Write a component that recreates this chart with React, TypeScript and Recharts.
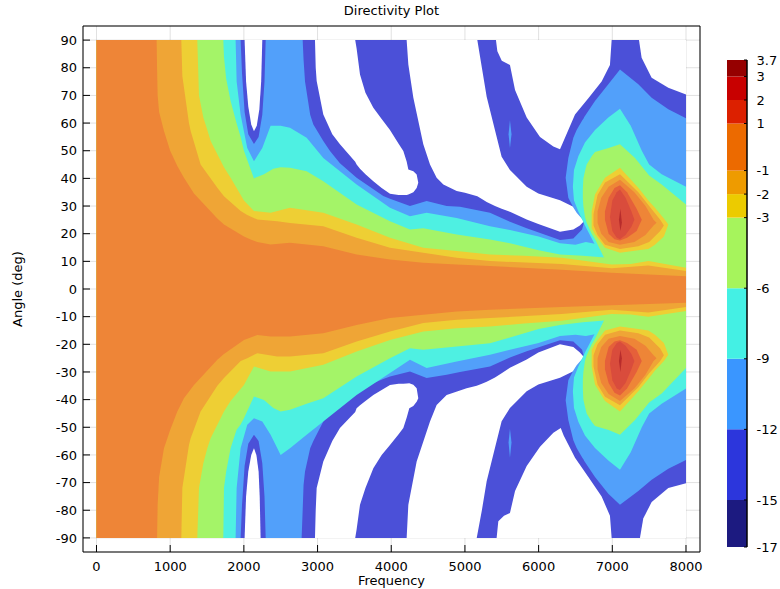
import React from "react";
import {
  ComposedChart,
  Area,
  XAxis,
  YAxis,
  CartesianGrid,
} from "recharts";

// each row: [frequency (Hz), low angle (deg), high angle (deg)]
type Row = [number, number, number];

const freqTicks = [0, 1000, 2000, 3000, 4000, 5000, 6000, 7000, 8000];
const angleTicks = [
  -90, -80, -70, -60, -50, -40, -30, -20, -10, 0, 10, 20, 30, 40, 50, 60, 70,
  80, 90,
];
const levelTicks = [3.7, 3, 2, 1, -1, -2, -3, -6, -9, -12, -15, -17];
const levelBands: [number, number][] = [
  [-17, -15],
  [-15, -12],
  [-12, -9],
  [-9, -6],
  [-6, -3],
  [-3, -2],
  [-2, -1],
  [-1, 1],
  [1, 2],
  [2, 3],
  [3, 3.7],
];
const levelColors = [
  "#1c1a80",
  "#2c36dc",
  "#3a96ff",
  "#44f0e4",
  "#a6f45c",
  "#eccb00",
  "#ee9b00",
  "#ec6a00",
  "#dc2000",
  "#c80000",
  "#960000",
];

// level >= -15
const blueBase: Row[] = [
  [0, -90, 90],
  [8000, -90, 90],
];

// regions below -15 (drawn white)
const holeU1: Row[] = [
  [2010, 90, 90], [2030, 75, 90], [2060, 66, 90], [2100, 59.5, 90], [2137, 57, 90],
  [2175, 59, 90], [2210, 65, 90], [2235, 75, 90], [2250, 90, 90],
];
const holeL1: Row[] = [
  [2010, -90, -90], [2030, -90, -75], [2060, -90, -66], [2100, -90, -60], [2137, -90, -57.6],
  [2170, -90, -60], [2200, -90, -66], [2215, -90, -75], [2227, -90, -90],
];
const holeU2: Row[] = [
  [2965, 90, 90], [2975, 80, 90], [2988, 75.2, 90], [3078, 63.1, 90], [3200, 56, 90],
  [3304, 52.3, 90], [3511, 46, 90], [3530, 45, 87], [3576, 43.5, 77.6], [3650, 41.5, 71],
  [3757, 39, 65.5], [3870, 36.5, 61.5], [3983, 34.4, 57.5], [4100, 34, 52.5], [4164, 34, 49.9],
  [4210, 34, 46], [4232, 34.2, 43.2], [4300, 35, 42.6], [4345, 36.5, 41.4], [4367, 38.4, 38.4],
];
const holeL2: Row[] = [
  [2965, -90, -90], [2975, -90, -80], [2988, -90, -72], [3078, -90, -62.4], [3200, -90, -55],
  [3304, -90, -50.3], [3511, -90, -44.5], [3530, -87, -43.1], [3576, -78, -42], [3650, -72, -40.5],
  [3757, -64.8, -38.3], [3870, -60, -36.5], [3983, -56.4, -34.7], [4100, -52.5, -34.3],
  [4164, -50.3, -34.3], [4210, -46.5, -34.2], [4245, -43.1, -34.1], [4300, -42.3, -34.6],
  [4345, -40.8, -35.9], [4367, -39.5, -39.5],
];
const holeU3: Row[] = [
  [4209, 90, 90], [4232, 81.2, 90], [4300, 69.2, 90], [4435, 52.3, 90], [4526, 45, 90],
  [4616, 40.2, 90], [4707, 37.8, 90], [4888, 35.4, 90], [5000, 34.8, 90], [5168, 33.5, 90],
  [5230, 32.5, 80], [5295, 31.5, 69.5], [5408, 30, 57.4], [5498, 29, 47.8], [5611, 27.9, 43],
  [5838, 25.1, 37], [5996, 23.5, 34.5], [6290, 20.7, 32.1], [6471, 21.5, 29.7],
  [6560, 23, 27.5], [6629, 24.9, 24.9],
];
const holeL3: Row[] = [
  [4209, -90, -90], [4232, -90, -78], [4345, -90, -62.4], [4526, -90, -47.9], [4616, -90, -41.9],
  [4752, -90, -38.3], [5023, -90, -35.9], [5160, -90, -35], [5230, -80, -34.3], [5295, -69.5, -33.5],
  [5408, -57.4, -32], [5498, -47.8, -30.5], [5611, -43, -28.5], [5838, -37, -25.5],
  [5996, -34.5, -23], [6290, -32.1, -20], [6471, -29.7, -21], [6560, -27.5, -23], [6629, -25, -25],
];
const holeU5: Row[] = [
  [5421, 90, 90], [5440, 86, 90], [5500, 82.5, 90], [5611, 81, 90], [5680, 72, 90],
  [5838, 62, 90], [6019, 55, 90], [6200, 51.5, 90], [6290, 50.5, 90], [6330, 53, 90],
  [6494, 63.1, 90], [6675, 69, 90], [6855, 75, 90], [6968, 81, 90], [6991, 90, 90],
];
const holeL5: Row[] = [
  [5430, -90, -90], [5453, -90, -84], [5530, -90, -82], [5611, -90, -81], [5680, -90, -73],
  [5838, -90, -64], [6019, -90, -57], [6200, -90, -52], [6300, -90, -50.3], [6340, -90, -53],
  [6494, -90, -61], [6675, -90, -68], [6855, -90, -75], [6968, -90, -82], [6991, -90, -90],
];
const holeU6: Row[] = [
  [7362, 90, 90], [7398, 83.6, 90], [7534, 76.4, 90], [7760, 72.8, 90], [8000, 70.3, 90],
];
const holeL6: Row[] = [
  [7375, -90, -90], [7420, -90, -83], [7534, -90, -77], [7760, -90, -72], [8000, -90, -70.2],
];

// level >= -12
const lbMain: Row[] = [
  [0, -90, 90], [1956, -90, 90], [1975, -78, 78], [2010, -64, 64], [2060, -56, 56],
  [2137, -52.7, 52.4], [2200, -55, 55], [2250, -63, 63], [2280, -75, 75], [2296, -90, 90],
  [2784, -90, 90], [2798, -80, 90], [2810, -71, 83], [2830, -66, 75], [2900, -57.6, 63],
  [2943, -55, 59.5], [3078, -47.9, 53.5], [3169, -44.5, 49.9], [3304, -40.7, 45.5],
  [3530, -36.5, 40.2], [3892, -32.5, 33.6], [3983, -31.6, 32.6], [4254, -29.8, 30],
  [4480, -32.2, 31.8], [4752, -31, 30], [4933, -30, 29.7], [5340, -28, 27.6],
  [5611, -24.8, 24.3], [5838, -22.5, 22], [6290, -18.5, 17.7], [6471, -19, 18.3],
  [6590, -22, 21.5], [6610, -24, 23.5], [6615, -62, 62], [6765, -68, 68], [6946, -74, 74],
  [7104, -78, 79.4], [7353, -73, 74], [7534, -69, 69.2], [7760, -65, 65], [8000, -61.8, 61.7],
];
const lbWedgeU: Row[] = [
  [6367, 40.2, 40.2], [6403, 33, 47.4], [6471, 29.5, 54.7], [6516, 27.6, 57.5],
  [6593, 25.2, 61], [6620, 24, 62],
];
const lbWedgeL: Row[] = [
  [6367, -40.2, -40.2], [6403, -47.4, -33], [6471, -54.7, -29.5], [6516, -57.5, -27.6],
  [6593, -61, -25.2], [6620, -62, -24],
];
const lbFleckU: Row[] = [
  [5592, 56, 56], [5611, 51, 61], [5632, 56, 56],
];
const lbFleckL: Row[] = [
  [5592, -55.5, -55.5], [5611, -61, -50.5], [5632, -55.5, -55.5],
];

// level >= -9
const cyMain: Row[] = [
  [0, -90, 90], [1888, -90, 90], [1902, -72, 75], [1956, -57.6, 63], [2046, -49.1, 51],
  [2137, -46.7, 46.2], [2250, -47.9, 51], [2363, -52.7, 59], [2499, -60, 59],
  [2626, -57.6, 58.3], [2852, -52.7, 54.7], [3078, -47.9, 47.4], [3530, -38.3, 37.8],
  [3983, -30.4, 29.4], [4254, -25.6, 26.3], [4480, -28.6, 27.6], [4888, -26.2, 25.7],
  [5340, -23.8, 22.7], [5611, -22, 21.3], [6000, -19.5, 19], [6290, -17, 16.5],
  [6500, -16.5, 16], [6640, -17, 17], [8000, -10, 10],
];
const cyWedgeU: Row[] = [
  [6465, 37, 37], [6480, 32, 43], [6539, 28, 48], [6629, 23, 53], [6765, 16, 57.5],
  [6946, 10, 62], [7104, 10, 65.2], [7250, 10, 59], [7400, 10, 50], [7500, 10, 45],
  [7670, 10, 41.5], [8000, 10, 37],
];
const cyWedgeL: Row[] = [
  [6465, -37, -37], [6480, -43, -32], [6539, -48, -28], [6629, -53, -23], [6765, -57.5, -16],
  [6946, -62, -10], [7104, -65.4, -10], [7250, -59, -10], [7400, -50, -10], [7500, -45, -10],
  [7670, -41.5, -10], [8000, -36, -10],
];

// level >= -6
const grMain: Row[] = [
  [0, -90, 90], [1721, -90, 90], [1730, -72, 84], [1760, -66, 76], [1820, -57.6, 68],
  [1900, -51, 60], [1956, -49, 55], [2001, -46.7, 50], [2137, -38.9, 40], [2273, -40.1, 41.5],
  [2400, -43, 43.5], [2499, -44.3, 44], [2626, -43.7, 43.8], [2852, -41.5, 42.6],
  [3078, -39.5, 39], [3530, -31.6, 30.6], [3983, -25, 24.5], [4254, -21.4, 21.5],
  [4435, -22, 22], [4888, -20.8, 19.7], [5340, -19.6, 17.9], [5611, -17.5, 16.5],
  [6000, -14.5, 14], [6290, -13, 12.5], [6600, -12, 12], [8000, -9, 9],
];
const grWedgeU: Row[] = [
  [6600, 33, 36], [6607, 30, 40], [6629, 26, 42.6], [6652, 24, 45], [6720, 20, 48],
  [6765, 18, 49.5], [6950, 8, 51], [7104, 8, 52.3], [7308, 8, 47.4], [7500, 8, 41],
  [7670, 8, 37.8], [8000, 8, 30.6],
];
const grWedgeL: Row[] = [
  [6600, -36, -33], [6607, -40, -30], [6629, -42.6, -26], [6652, -45, -24], [6720, -48, -20],
  [6765, -49.5, -18], [6950, -51, -8], [7104, -52.7, -8], [7308, -47.4, -8], [7500, -41, -8],
  [7670, -37.8, -8], [8000, -28.6, -8],
];

// level >= -3
const yeMain: Row[] = [
  [0, -90, 90], [1368, -90, 90], [1391, -72, 70], [1450, -63, 62], [1504, -57.6, 57.5],
  [1549, -54, 53.5], [1730, -44.3, 44], [1820, -40.5, 40.2], [2001, -34.7, 32],
  [2137, -28, 28.2], [2363, -29.8, 27.6], [2626, -29.8, 29.4], [3078, -27.4, 27.6],
  [3530, -22.6, 23.3], [3983, -18.4, 18.5], [4435, -15.4, 14.9], [4888, -14.2, 13.7],
  [5340, -13.6, 12.5], [5800, -12.5, 12], [6313, -11.5, 11.3], [6991, -9, 8.9],
  [7250, -9.2, 9], [7489, -10, 10.1], [8000, -8, 7.7],
];
const yeLobeU: Row[] = [
  [6720, 22, 28], [6765, 19.7, 34.2], [6901, 14.9, 40.2], [7104, 13.1, 43.8],
  [7353, 14, 36.6], [7489, 14.5, 32], [7579, 16, 29.4], [7700, 19, 25.5], [7760, 23.3, 23.3],
];
const yeLobeL: Row[] = [
  [6720, -28, -22], [6765, -34.5, -19.7], [6901, -40.5, -15], [7104, -44.3, -13.6],
  [7353, -37, -14.5], [7489, -32.5, -15], [7579, -29.5, -16.5], [7700, -26, -19.5],
  [7760, -23.8, -23.8],
];

// level >= -2
const oyMain: Row[] = [
  [0, -90, 90], [1151, -90, 90], [1165, -72, 77], [1255, -56.4, 60], [1278, -54, 57.1],
  [1413, -44.3, 45], [1640, -35, 36.6], [1730, -32.2, 33.5], [1957, -26, 28.2],
  [2046, -25, 26.8], [2183, -23.2, 25.1], [2453, -24.4, 24.5], [2626, -24.4, 23.9],
  [3078, -23.2, 22.7], [3530, -19, 18.5], [3983, -15.4, 14.9], [4435, -12.3, 13.1],
  [4888, -11.1, 11.3], [5340, -10.5, 10.1], [6313, -9, 9], [6991, -7.5, 7.5],
  [7489, -8.5, 8.5], [8000, -6.5, 6.5],
];
const oyLobeU: Row[] = [
  [6745, 23, 27], [6800, 19.5, 34], [6901, 16, 38.5], [7104, 14.5, 41.5], [7353, 15.5, 35],
  [7500, 17, 30], [7650, 21, 25], [7700, 23, 23],
];
const oyLobeL: Row[] = [
  [6745, -28, -24], [6800, -34.5, -20], [6901, -39, -16.5], [7104, -42, -15],
  [7353, -35.5, -16], [7500, -30.5, -17.5], [7650, -26, -21.5], [7700, -24, -24],
];

// level >= -1
const orMain: Row[] = [
  [0, -90, 90], [816, -90, 90], [822, -90, 80], [830, -78, 70], [850, -68, 64],
  [916, -57.6, 57.1], [1000, -51, 50], [1097, -44.3, 44.5], [1187, -39.5, 40.2],
  [1323, -34.7, 34.5], [1640, -25.6, 25.5], [1730, -23.5, 23.3], [2001, -18.4, 19],
  [2092, -17.5, 17.9], [2182, -16.6, 17], [2363, -17.2, 16.1], [2626, -17.2, 16.7],
  [3078, -16, 15.5], [3530, -13, 12.5], [3983, -10.5, 10.7], [4435, -9.3, 9.5],
  [4888, -8.1, 8.9], [5340, -7.5, 8.3], [6313, -6.5, 7], [6991, -5.9, 5.9], [8000, -5, 4.6],
];
const orLobeU: Row[] = [
  [6800, 24, 28], [6850, 20, 33], [6950, 17, 37], [7104, 16, 39.5], [7300, 17, 35],
  [7450, 19.5, 30], [7560, 23, 25], [7600, 24, 24],
];
const orLobeL: Row[] = [
  [6800, -29, -25], [6850, -34, -21], [6950, -38, -18], [7104, -40.5, -17], [7300, -36, -18],
  [7450, -31, -20.5], [7560, -26, -24], [7600, -25, -25],
];

// level >= 1, >= 2, >= 3
const roLobeU: Row[] = [
  [6900, 25, 28], [6950, 20, 33], [7030, 18, 36.5], [7104, 17.5, 37.5], [7200, 18.5, 35],
  [7330, 21, 29], [7400, 25, 25],
];
const roLobeL: Row[] = [
  [6900, -29, -26], [6950, -34, -21], [7030, -37.5, -19], [7104, -38.5, -18.5],
  [7200, -36, -19.5], [7330, -30, -22], [7400, -26, -26],
];
const rdLobeU: Row[] = [
  [6968, 26, 26], [7000, 21, 32], [7060, 18.5, 35], [7104, 18, 36], [7180, 19.5, 33],
  [7260, 22.5, 28], [7300, 25, 25],
];
const rdLobeL: Row[] = [
  [6968, -27, -27], [7000, -33, -22], [7060, -36, -19.5], [7104, -36.5, -19],
  [7180, -34, -20.5], [7260, -29, -23.5], [7300, -26, -26],
];
const dkLobeU: Row[] = [
  [7090, 25, 25], [7110, 21, 29], [7130, 24, 24],
];
const dkLobeL: Row[] = [
  [7090, -26, -26], [7110, -30, -22], [7130, -25, -25],
];

const PLOT = {
  white: "#ffffff",
  blue: "#4b50d8",
  lightBlue: "#52a0fa",
  cyan: "#4ef0e2",
  green: "#a4f468",
  yellow: "#eecf34",
  orangeYellow: "#efa536",
  orange: "#ee8537",
  redOrange: "#e5603a",
  red: "#d94c3c",
  darkRed: "#b82c2c",
};

// painted in order, lowest level first
const layers: { key: string; rows: Row[]; color: string }[] = [
  { key: "blueBase", rows: blueBase, color: PLOT.blue },
  { key: "holeU1", rows: holeU1, color: PLOT.white },
  { key: "holeL1", rows: holeL1, color: PLOT.white },
  { key: "holeU2", rows: holeU2, color: PLOT.white },
  { key: "holeL2", rows: holeL2, color: PLOT.white },
  { key: "holeU3", rows: holeU3, color: PLOT.white },
  { key: "holeL3", rows: holeL3, color: PLOT.white },
  { key: "holeU5", rows: holeU5, color: PLOT.white },
  { key: "holeL5", rows: holeL5, color: PLOT.white },
  { key: "holeU6", rows: holeU6, color: PLOT.white },
  { key: "holeL6", rows: holeL6, color: PLOT.white },
  { key: "lbMain", rows: lbMain, color: PLOT.lightBlue },
  { key: "lbWedgeU", rows: lbWedgeU, color: PLOT.lightBlue },
  { key: "lbWedgeL", rows: lbWedgeL, color: PLOT.lightBlue },
  { key: "lbFleckU", rows: lbFleckU, color: PLOT.lightBlue },
  { key: "lbFleckL", rows: lbFleckL, color: PLOT.lightBlue },
  { key: "cyMain", rows: cyMain, color: PLOT.cyan },
  { key: "cyWedgeU", rows: cyWedgeU, color: PLOT.cyan },
  { key: "cyWedgeL", rows: cyWedgeL, color: PLOT.cyan },
  { key: "grMain", rows: grMain, color: PLOT.green },
  { key: "grWedgeU", rows: grWedgeU, color: PLOT.green },
  { key: "grWedgeL", rows: grWedgeL, color: PLOT.green },
  { key: "yeMain", rows: yeMain, color: PLOT.yellow },
  { key: "yeLobeU", rows: yeLobeU, color: PLOT.yellow },
  { key: "yeLobeL", rows: yeLobeL, color: PLOT.yellow },
  { key: "oyMain", rows: oyMain, color: PLOT.orangeYellow },
  { key: "oyLobeU", rows: oyLobeU, color: PLOT.orangeYellow },
  { key: "oyLobeL", rows: oyLobeL, color: PLOT.orangeYellow },
  { key: "orMain", rows: orMain, color: PLOT.orange },
  { key: "orLobeU", rows: orLobeU, color: PLOT.orange },
  { key: "orLobeL", rows: orLobeL, color: PLOT.orange },
  { key: "roLobeU", rows: roLobeU, color: PLOT.redOrange },
  { key: "roLobeL", rows: roLobeL, color: PLOT.redOrange },
  { key: "rdLobeU", rows: rdLobeU, color: PLOT.red },
  { key: "rdLobeL", rows: rdLobeL, color: PLOT.red },
  { key: "dkLobeU", rows: dkLobeU, color: PLOT.darkRed },
  { key: "dkLobeL", rows: dkLobeL, color: PLOT.darkRed },
];

// merge all regions into one table keyed by frequency
const table = (() => {
  const byFreq = new Map<number, Record<string, any>>();
  layers.forEach((layer) =>
    layer.rows.forEach(([f, lo, hi]) => {
      const row = byFreq.get(f) ?? { f };
      row[layer.key] = [lo, hi];
      byFreq.set(f, row);
    })
  );
  return Array.from(byFreq.values()).sort((a, b) => a.f - b.f);
})();

// colour bar: each band spans the bar's full width
const barEdges = [0, 1];
const barTable = barEdges.map((x) => {
  const row: Record<string, any> = { x };
  levelBands.forEach((band, i) => {
    row[`band${i}`] = band;
  });
  return row;
});

const FONT = "DejaVu Sans";
const tickStyle = { fontSize: 13, fill: "#000", fontFamily: FONT };

const ColorBar = () => (
  <div style={{ position: "absolute", left: 727, top: 52 }}>
    <ComposedChart
      width={53}
      height={503}
      data={barTable}
      margin={{ top: 8, right: 0, bottom: 8, left: 0 }}
    >
      <XAxis
        type="number"
        dataKey="x"
        domain={[0, 1]}
        height={0}
        tick={false}
        tickLine={false}
        axisLine={{ stroke: "#000", strokeWidth: 1.5 }}
      />
      <XAxis
        xAxisId="top"
        orientation="top"
        type="number"
        domain={[0, 1]}
        height={0}
        tick={false}
        tickLine={false}
        axisLine={{ stroke: "#000", strokeWidth: 1.5 }}
      />
      <YAxis
        yAxisId="left"
        type="number"
        domain={[-17, 3.7]}
        ticks={levelTicks}
        interval={0}
        width={0}
        tick={false}
        tickSize={-3}
        tickLine={{ stroke: "#000" }}
        axisLine={{ stroke: "#000", strokeWidth: 1.5 }}
      />
      <YAxis
        orientation="right"
        type="number"
        domain={[-17, 3.7]}
        ticks={levelTicks}
        interval={0}
        width={33}
        tickSize={-3}
        tickMargin={12.5}
        tickLine={{ stroke: "#000" }}
        axisLine={{ stroke: "#000", strokeWidth: 1.5 }}
        tick={tickStyle}
      />
      {levelBands.map((band, i) => (
        <Area
          key={`band${i}`}
          dataKey={`band${i}`}
          type="linear"
          fill={levelColors[i]}
          fillOpacity={1}
          stroke="none"
          dot={false}
          activeDot={false}
          isAnimationActive={false}
        />
      ))}
    </ComposedChart>
  </div>
);

export default function App() {
  return (
    <div
      style={{
        position: "absolute",
        left: 0,
        top: 0,
        width: 780,
        height: 589,
        background: "#fff",
        fontFamily: FONT,
      }}
    >
      <div
        style={{
          position: "absolute",
          left: 83,
          width: 617,
          top: 3,
          textAlign: "center",
          fontSize: 13,
          lineHeight: "16px",
          color: "#000",
        }}
      >
        Directivity Plot
      </div>
      <ComposedChart
        width={780}
        height={589}
        data={table}
        margin={{ top: 0, right: 0, bottom: 0, left: 0 }}
      >
        <XAxis
          dataKey="f"
          type="number"
          domain={[-183, 8190]}
          allowDataOverflow
          ticks={freqTicks}
          interval={0}
          height={37}
          tickSize={-7}
          tickMargin={17}
          axisLine={{ stroke: "#000" }}
          tickLine={{ stroke: "#000" }}
          tick={tickStyle}
          label={{
            value: "Frequency",
            position: "insideBottom",
            offset: 4,
            style: { fontSize: 13, fill: "#000", fontFamily: FONT },
          }}
        />
        <XAxis
          xAxisId="top"
          orientation="top"
          type="number"
          domain={[-183, 8190]}
          allowDataOverflow
          ticks={freqTicks}
          interval={0}
          height={26}
          tickSize={-7}
          tick={false}
          axisLine={{ stroke: "#000" }}
          tickLine={{ stroke: "#000" }}
        />
        <YAxis
          type="number"
          domain={[-95.1, 95.1]}
          allowDataOverflow
          ticks={angleTicks}
          interval={0}
          width={83}
          tickSize={-7}
          tickMargin={13}
          axisLine={{ stroke: "#000" }}
          tickLine={{ stroke: "#000" }}
          tick={tickStyle}
          label={{
            value: "Angle (deg)",
            angle: -90,
            position: "insideLeft",
            offset: 17,
            style: {
              textAnchor: "middle",
              fontSize: 13,
              fill: "#000",
              fontFamily: FONT,
            },
          }}
        />
        <YAxis
          yAxisId="right"
          orientation="right"
          type="number"
          domain={[-95.1, 95.1]}
          allowDataOverflow
          ticks={angleTicks}
          interval={0}
          width={80}
          tickSize={-7}
          tick={false}
          axisLine={{ stroke: "#000" }}
          tickLine={{ stroke: "#000" }}
        />
        {layers.map((layer) => (
          <Area
            key={layer.key}
            dataKey={layer.key}
            type="linear"
            fill={layer.color}
            fillOpacity={1}
            stroke="none"
            connectNulls
            dot={false}
            activeDot={false}
            isAnimationActive={false}
          />
        ))}
        <CartesianGrid stroke="rgba(0,0,0,0.12)" />
      </ComposedChart>
      <ColorBar />
    </div>
  );
}
